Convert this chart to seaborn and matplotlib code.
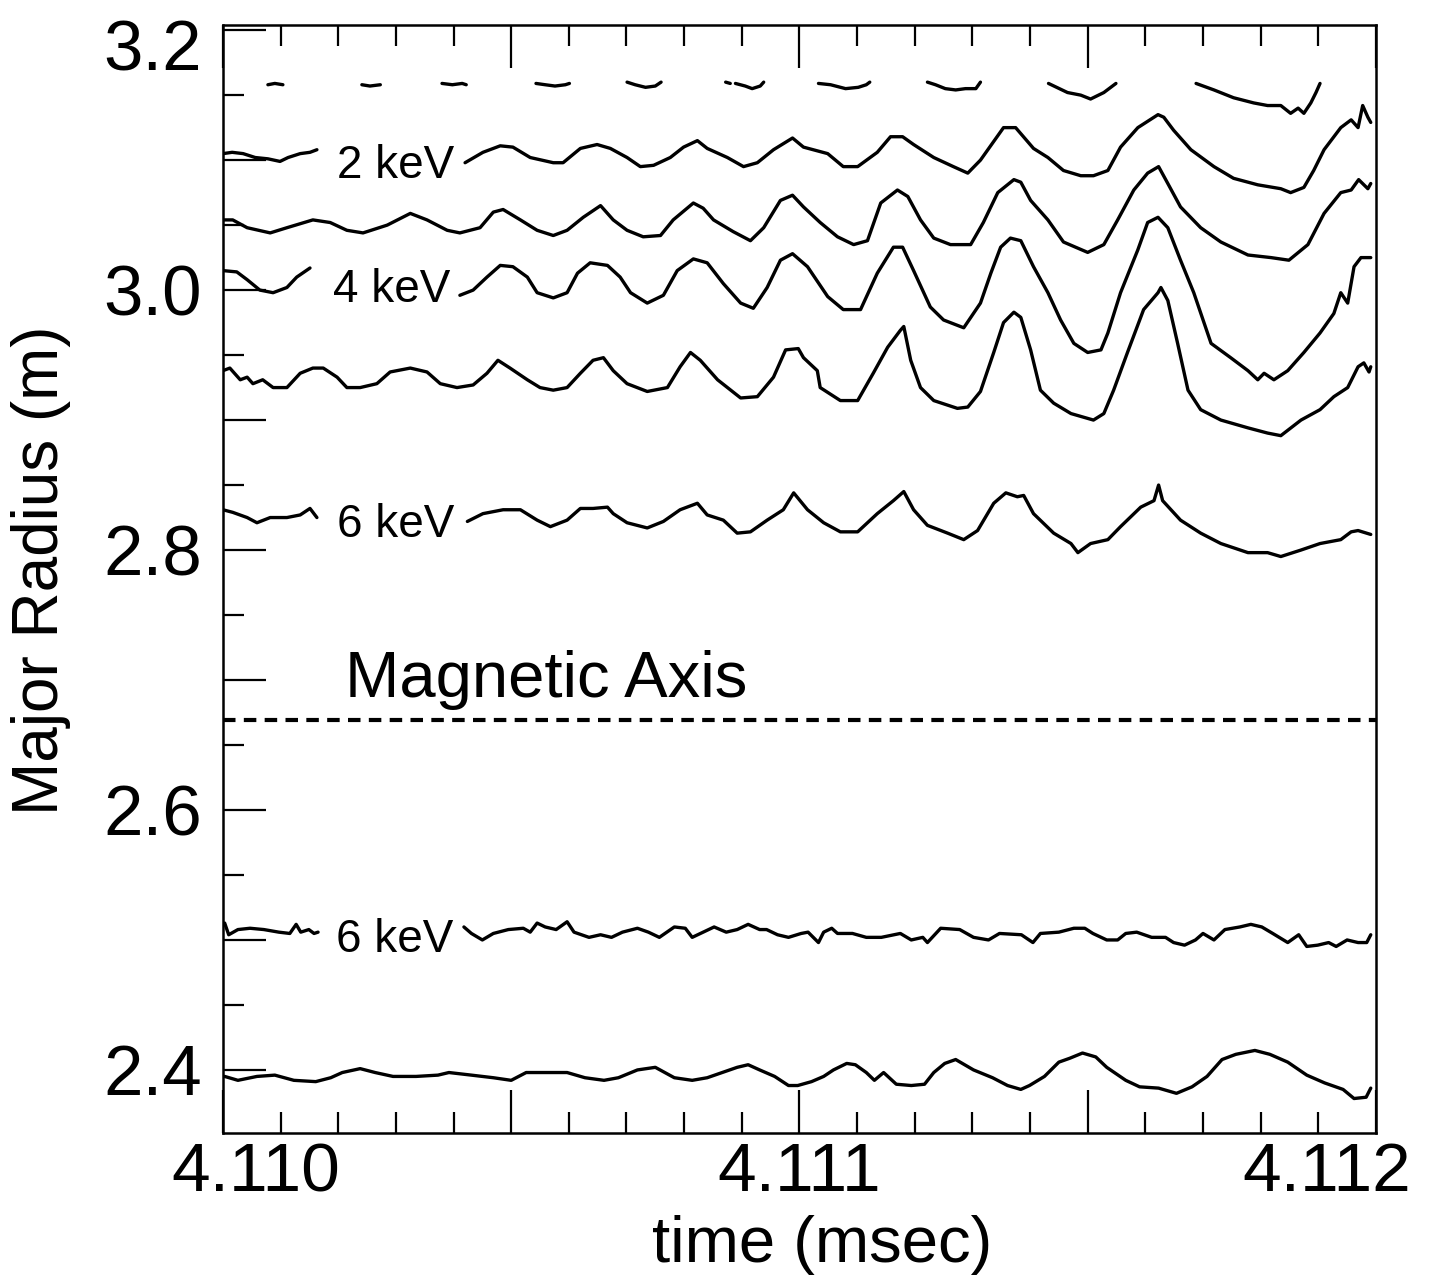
import numpy as np
import pandas as pd
import matplotlib
matplotlib.use("Agg")
import matplotlib.pyplot as plt
from matplotlib.ticker import MultipleLocator, FuncFormatter
from matplotlib.transforms import ScaledTranslation
import seaborn as sns

# ---------------------------------------------------------------------------
# Data: iso-temperature contours, time in ns after T0 (ms), radius in m
# ---------------------------------------------------------------------------
T0 = 4.110

# outermost contour, only its lower edges are visible
A_ns = [
    [78, 90, 104],
    [241, 255, 273],
    [380, 398, 415, 422],
    [543, 559, 576, 594, 601],
    [701, 715, 733, 750, 760],
    [872, 880],
    [889, 906, 918, 932, 938],
    [1033, 1054, 1080, 1102, 1116, 1122],
    [1222, 1236, 1253, 1271, 1288, 1306, 1314],
    [1432, 1465, 1488, 1505, 1528, 1549],
    [1688, 1719, 1753, 1788, 1812, 1835, 1852, 1865, 1875, 1887, 1896, 1903],
]
A_r = [
    [3.158, 3.159, 3.158],
    [3.158, 3.157, 3.158],
    [3.159, 3.158, 3.159, 3.158],
    [3.159, 3.158, 3.157, 3.158, 3.159],
    [3.160, 3.158, 3.156, 3.157, 3.160],
    [3.160, 3.159],
    [3.159, 3.157, 3.155, 3.157, 3.160],
    [3.159, 3.158, 3.155, 3.156, 3.158, 3.160],
    [3.160, 3.158, 3.155, 3.154, 3.155, 3.155, 3.160],
    [3.159, 3.152, 3.150, 3.147, 3.152, 3.159],
    [3.159, 3.154, 3.148, 3.144, 3.142, 3.142, 3.136, 3.140, 3.136, 3.144, 3.152, 3.159],
]

# 2 keV contour
B_left_ns = [0, 16, 35, 56, 78, 99, 113, 134, 151, 163]
B_left_r = [3.105, 3.106, 3.105, 3.102, 3.101, 3.099, 3.102, 3.105, 3.106, 3.108]
B_right_ns = [420, 451, 481, 503, 533, 573, 590, 620, 649, 672,
              701, 724, 747, 776, 799, 823, 840, 875, 903, 927,
              955, 988, 1007, 1049, 1076, 1101, 1135, 1158, 1179, 1198,
              1233, 1267, 1292, 1314, 1354, 1375, 1406, 1431, 1458, 1488,
              1510, 1535, 1557, 1587, 1622, 1632, 1649, 1679, 1719, 1753,
              1795, 1835, 1852, 1875, 1892, 1910, 1939, 1957, 1969, 1977,
              1986, 1991]
B_right_r = [3.098, 3.106, 3.111, 3.110, 3.102, 3.098, 3.098, 3.109, 3.112, 3.109,
             3.102, 3.095, 3.096, 3.102, 3.110, 3.115, 3.109, 3.102, 3.095, 3.098,
             3.108, 3.117, 3.110, 3.105, 3.095, 3.095, 3.106, 3.118, 3.118, 3.112,
             3.102, 3.095, 3.090, 3.100, 3.125, 3.125, 3.109, 3.102, 3.092, 3.088,
             3.088, 3.092, 3.110, 3.125, 3.135, 3.133, 3.123, 3.108, 3.095, 3.086,
             3.081, 3.078, 3.075, 3.079, 3.092, 3.108, 3.125, 3.131, 3.125, 3.142,
             3.133, 3.129]

# 3 keV contour
C_ns = [0, 17, 42, 82, 111, 156, 186, 215, 243, 285,
        325, 354, 389, 411, 446, 469, 486, 516, 545, 573,
        597, 625, 655, 677, 701, 729, 759, 781, 816, 833,
        851, 885, 915, 938, 967, 988, 1007, 1036, 1066, 1094,
        1118, 1141, 1170, 1188, 1210, 1233, 1262, 1297, 1319, 1344,
        1372, 1384, 1401, 1431, 1458, 1500, 1528, 1552, 1580, 1604,
        1623, 1639, 1661, 1696, 1731, 1778, 1818, 1849, 1882, 1910,
        1939, 1957, 1970, 1986, 1991]
C_r = [3.054, 3.054, 3.048, 3.044, 3.048, 3.054, 3.052, 3.046, 3.044, 3.050,
       3.059, 3.054, 3.046, 3.044, 3.048, 3.060, 3.062, 3.054, 3.046, 3.042,
       3.046, 3.056, 3.065, 3.054, 3.046, 3.041, 3.042, 3.054, 3.067, 3.063,
       3.054, 3.045, 3.038, 3.048, 3.069, 3.073, 3.064, 3.052, 3.041, 3.035,
       3.038, 3.067, 3.077, 3.072, 3.054, 3.040, 3.035, 3.035, 3.052, 3.075,
       3.085, 3.083, 3.069, 3.054, 3.037, 3.029, 3.035, 3.054, 3.077, 3.090,
       3.095, 3.082, 3.064, 3.048, 3.037, 3.027, 3.025, 3.023, 3.035, 3.059,
       3.075, 3.077, 3.085, 3.078, 3.082]

# 4 keV contour
D_left_ns = [0, 24, 42, 64, 87, 111, 128, 151]
D_left_r = [3.015, 3.014, 3.008, 3.000, 2.998, 3.002, 3.010, 3.017]
D_right_ns = [411, 434, 458, 481, 503, 528, 545, 573, 597, 615,
              637, 667, 689, 707, 736, 764, 788, 816, 840, 868,
              898, 920, 944, 967, 988, 1014, 1049, 1076, 1106, 1135,
              1163, 1179, 1198, 1227, 1250, 1285, 1314, 1332, 1349, 1366,
              1384, 1406, 1431, 1453, 1476, 1500, 1523, 1535, 1557, 1587,
              1604, 1622, 1639, 1661, 1684, 1714, 1748, 1778, 1795, 1806,
              1823, 1847, 1875, 1903, 1927, 1939, 1951, 1962, 1974, 1991]
D_right_r = [2.996, 3.000, 3.010, 3.019, 3.018, 3.010, 2.998, 2.994, 2.998, 3.013,
             3.021, 3.019, 3.010, 2.998, 2.990, 2.996, 3.015, 3.024, 3.021, 3.005,
             2.990, 2.986, 3.002, 3.023, 3.028, 3.018, 2.995, 2.985, 2.985, 3.013,
             3.033, 3.033, 3.015, 2.987, 2.977, 2.971, 2.990, 3.013, 3.033, 3.040,
             3.038, 3.018, 2.998, 2.977, 2.959, 2.952, 2.954, 2.967, 2.998, 3.031,
             3.052, 3.056, 3.048, 3.023, 2.998, 2.959, 2.948, 2.938, 2.931, 2.936,
             2.931, 2.938, 2.952, 2.967, 2.982, 2.998, 2.990, 3.018, 3.025, 3.025]

# 5 keV contour
E_ns = [0, 12, 30, 42, 52, 69, 87, 111, 134, 156,
        174, 198, 215, 238, 267, 290, 325, 354, 377, 406,
        434, 458, 477, 498, 528, 550, 573, 597, 620, 642,
        660, 677, 701, 736, 771, 793, 811, 828, 858, 898,
        927, 955, 976, 998, 1007, 1031, 1036, 1071, 1101, 1128,
        1153, 1175, 1181, 1193, 1210, 1233, 1274, 1292, 1314, 1337,
        1354, 1372, 1384, 1401, 1418, 1441, 1471, 1510, 1528, 1545,
        1569, 1597, 1622, 1627, 1639, 1656, 1674, 1696, 1731, 1778,
        1812, 1835, 1870, 1903, 1927, 1951, 1969, 1979, 1988, 1991]
E_r = [2.938, 2.940, 2.931, 2.933, 2.928, 2.931, 2.925, 2.925, 2.936, 2.940,
       2.940, 2.933, 2.925, 2.925, 2.928, 2.937, 2.940, 2.937, 2.928, 2.925,
       2.927, 2.936, 2.946, 2.940, 2.931, 2.925, 2.923, 2.925, 2.936, 2.946,
       2.948, 2.938, 2.928, 2.922, 2.925, 2.941, 2.952, 2.946, 2.931, 2.917,
       2.918, 2.933, 2.954, 2.955, 2.948, 2.938, 2.925, 2.915, 2.915, 2.936,
       2.956, 2.969, 2.972, 2.946, 2.925, 2.915, 2.909, 2.910, 2.922, 2.952,
       2.975, 2.983, 2.979, 2.954, 2.923, 2.913, 2.905, 2.900, 2.905, 2.923,
       2.952, 2.985, 2.998, 3.002, 2.992, 2.959, 2.923, 2.908, 2.900, 2.894,
       2.890, 2.888, 2.900, 2.908, 2.918, 2.925, 2.941, 2.944, 2.937, 2.941]

# 6 keV contour, outboard side
F_left_ns = [0, 17, 42, 59, 82, 111, 134, 151, 163]
F_left_r = [2.831, 2.829, 2.825, 2.821, 2.825, 2.825, 2.827, 2.832, 2.825]
F_right_ns = [424, 451, 486, 516, 545, 568, 597, 620, 642, 667,
              677, 701, 736, 764, 793, 823, 840, 868, 892, 915,
              944, 972, 990, 1014, 1042, 1071, 1101, 1135, 1163, 1181,
              1198, 1222, 1257, 1285, 1309, 1337, 1358, 1378, 1389, 1406,
              1441, 1471, 1483, 1505, 1535, 1557, 1592, 1615, 1623, 1630,
              1661, 1696, 1731, 1778, 1812, 1835, 1870, 1903, 1939, 1957,
              1969, 1991]
F_right_r = [2.822, 2.828, 2.831, 2.831, 2.823, 2.818, 2.823, 2.832, 2.832, 2.833,
             2.828, 2.821, 2.817, 2.822, 2.831, 2.836, 2.827, 2.823, 2.813, 2.814,
             2.823, 2.831, 2.844, 2.831, 2.821, 2.814, 2.814, 2.828, 2.838, 2.845,
             2.831, 2.819, 2.813, 2.808, 2.815, 2.836, 2.844, 2.841, 2.842, 2.828,
             2.813, 2.805, 2.798, 2.805, 2.808, 2.818, 2.833, 2.838, 2.850, 2.838,
             2.823, 2.813, 2.805, 2.798, 2.798, 2.795, 2.800, 2.805, 2.808, 2.814,
             2.815, 2.812]

# 6 keV contour, inboard side
G_left_ns = [3, 10, 26, 47, 71, 97, 116, 127, 135, 149, 158, 165]
G_left_r = [2.513, 2.504, 2.508, 2.509, 2.508, 2.506, 2.505, 2.512, 2.506, 2.508, 2.505, 2.506]
G_right_ns = [418, 431, 450, 469, 495, 521, 533, 545, 559, 578,
              597, 609, 635, 655, 674, 693, 719, 738, 757, 783,
              802, 814, 833, 852, 873, 892, 911, 931, 943, 962,
              981, 1003, 1015, 1033, 1042, 1056, 1066, 1092, 1116, 1142,
              1175, 1194, 1214, 1222, 1245, 1278, 1302, 1328, 1347, 1385,
              1405, 1418, 1450, 1476, 1495, 1509, 1533, 1552, 1566, 1585,
              1611, 1635, 1649, 1668, 1687, 1700, 1719, 1738, 1764, 1783,
              1802, 1821, 1847, 1866, 1880, 1899, 1918, 1931, 1950, 1969,
              1984, 1991]
G_right_r = [2.510, 2.505, 2.500, 2.505, 2.508, 2.509, 2.506, 2.513, 2.510, 2.508,
             2.514, 2.506, 2.502, 2.504, 2.502, 2.506, 2.509, 2.506, 2.502, 2.510,
             2.509, 2.502, 2.506, 2.510, 2.506, 2.508, 2.512, 2.508, 2.508, 2.504,
             2.502, 2.505, 2.506, 2.498, 2.506, 2.509, 2.505, 2.505, 2.502, 2.502,
             2.505, 2.500, 2.502, 2.498, 2.509, 2.508, 2.502, 2.500, 2.505, 2.504,
             2.498, 2.505, 2.506, 2.509, 2.509, 2.505, 2.500, 2.500, 2.505, 2.506,
             2.502, 2.502, 2.498, 2.496, 2.500, 2.505, 2.500, 2.508, 2.510, 2.512,
             2.510, 2.505, 2.498, 2.504, 2.495, 2.496, 2.498, 2.495, 2.500, 2.498,
             2.498, 2.504]

# innermost inboard contour
H_ns = [3, 26, 59, 90, 123, 161, 187, 207, 238, 264,
        295, 335, 373, 392, 431, 469, 500, 526, 559, 597,
        628, 661, 686, 719, 750, 783, 814, 840, 866, 892,
        911, 931, 957, 981, 997, 1021, 1042, 1059, 1082, 1097,
        1116, 1130, 1146, 1168, 1194, 1217, 1233, 1252, 1271, 1302,
        1335, 1361, 1384, 1399, 1425, 1450, 1469, 1491, 1514, 1533,
        1566, 1590, 1623, 1654, 1681, 1707, 1733, 1757, 1790, 1816,
        1847, 1880, 1911, 1943, 1962, 1983, 1991]
H_r = [2.395, 2.392, 2.395, 2.396, 2.392, 2.391, 2.394, 2.398, 2.401, 2.398,
       2.395, 2.395, 2.396, 2.398, 2.396, 2.394, 2.392, 2.398, 2.398, 2.398,
       2.394, 2.392, 2.394, 2.400, 2.402, 2.394, 2.392, 2.394, 2.398, 2.402,
       2.404, 2.400, 2.395, 2.388, 2.388, 2.391, 2.395, 2.400, 2.405, 2.404,
       2.398, 2.392, 2.398, 2.389, 2.388, 2.389, 2.398, 2.405, 2.408, 2.400,
       2.394, 2.388, 2.385, 2.388, 2.395, 2.406, 2.409, 2.413, 2.410, 2.402,
       2.392, 2.387, 2.386, 2.382, 2.387, 2.395, 2.408, 2.412, 2.415, 2.412,
       2.406, 2.396, 2.390, 2.385, 2.378, 2.379, 2.386]

MAGNETIC_AXIS_R = 2.669

# contour labels: (text, start in ns, baseline radius)
LABELS = [("2 keV", 198, 3.086), ("4 keV", 191, 2.991),
          ("6 keV", 198, 2.810), ("6 keV", 196, 2.491)]
AXIS_LABEL = ("Magnetic Axis", 212, 2.687)

# ---------------------------------------------------------------------------
# Assemble a long table, one unit per unbroken piece of line
# ---------------------------------------------------------------------------
pieces = list(zip(A_ns, A_r)) + [
    (B_left_ns, B_left_r), (B_right_ns, B_right_r),
    (C_ns, C_r),
    (D_left_ns, D_left_r), (D_right_ns, D_right_r),
    (E_ns, E_r),
    (F_left_ns, F_left_r), (F_right_ns, F_right_r),
    (G_left_ns, G_left_r), (G_right_ns, G_right_r),
    (H_ns, H_r),
]
frames = []
for k, (ns, r) in enumerate(pieces):
    frames.append(pd.DataFrame({
        "time": T0 + np.asarray(ns, dtype=float) * 1e-6,
        "radius": np.asarray(r, dtype=float),
        "piece": k,
    }))
df = pd.concat(frames, ignore_index=True)

# ---------------------------------------------------------------------------
# Figure
# ---------------------------------------------------------------------------
sns.set_style("white")
FONT = ["Liberation Sans", "DejaVu Sans"]
plt.rcParams["font.family"] = FONT
plt.rcParams["text.color"] = "black"
plt.rcParams["axes.labelcolor"] = "black"
plt.rcParams["xtick.color"] = "black"
plt.rcParams["ytick.color"] = "black"

fig = plt.figure(figsize=(14.3, 12.86), dpi=100)
ax = fig.add_axes([0.1559, 0.1190, 0.8063, 0.8616])

sns.lineplot(data=df, x="time", y="radius", units="piece", estimator=None,
             sort=False, color="black", linewidth=2.4, legend=False, ax=ax)

ax.axhline(MAGNETIC_AXIS_R, color="black", linewidth=3.0,
           linestyle=(0, (3.0, 2.0)))

for text, ns, r in LABELS:
    ax.text(T0 + ns * 1e-6, r, text, ha="left", va="baseline",
            fontsize=33, color="black")
ax.text(T0 + AXIS_LABEL[1] * 1e-6, AXIS_LABEL[2], AXIS_LABEL[0],
        ha="left", va="baseline", fontsize=47, color="black")

ax.set_xlim(4.110, 4.112)
ax.set_ylim(2.3515, 3.204)

ax.xaxis.set_major_locator(MultipleLocator(0.0005))
ax.xaxis.set_minor_locator(MultipleLocator(0.0001))
ax.yaxis.set_major_locator(MultipleLocator(0.1))
ax.yaxis.set_minor_locator(MultipleLocator(0.05))

ax.xaxis.set_major_formatter(FuncFormatter(
    lambda v, p: f"{v:.3f}" if abs(v * 1000 - round(v * 1000)) < 1e-6 else ""))
ax.yaxis.set_major_formatter(FuncFormatter(
    lambda v, p: f"{v:.1f}" if round(v * 10) % 2 == 0 else ""))

ax.tick_params(axis="x", which="both", direction="in", top=True, bottom=True,
               labelsize=50, pad=6, width=1.6, colors="black")
ax.tick_params(axis="y", which="both", direction="in", left=True, right=False,
               labelsize=51, pad=15, width=1.6, colors="black")
ax.tick_params(which="major", length=31)
ax.tick_params(which="minor", length=15)

for side in ["left", "right", "top", "bottom"]:
    ax.spines[side].set_visible(True)
    ax.spines[side].set_color("black")
    ax.spines[side].set_linewidth(1.8)

ax.set_xlabel("time (msec)", fontsize=47, color="black")
ax.set_ylabel("Major Radius (m)", fontsize=46, color="black")
ax.xaxis.set_label_coords(0.520, -0.074)
ax.yaxis.set_label_coords(-0.132, 0.508)


def shift_tick_label(axis, value, dx, dy):
    """Nudge the label of the major tick nearest `value` by (dx, dy) inches."""
    locs = np.asarray(axis.get_majorticklocs())
    ticks = axis.get_major_ticks(len(locs))
    idx = int(np.argmin(np.abs(locs - value)))
    lab = ticks[idx].label1
    lab.set_transform(lab.get_transform() + ScaledTranslation(dx, dy, fig.dpi_scale_trans))


# pull the end labels inside the frame
fig.canvas.draw()
shift_tick_label(ax.xaxis, 4.110, 0.33, 0)
shift_tick_label(ax.xaxis, 4.112, -0.49, 0)
shift_tick_label(ax.yaxis, 3.2, 0, -0.15)

fig.savefig("out.png", dpi=100, facecolor="white")
